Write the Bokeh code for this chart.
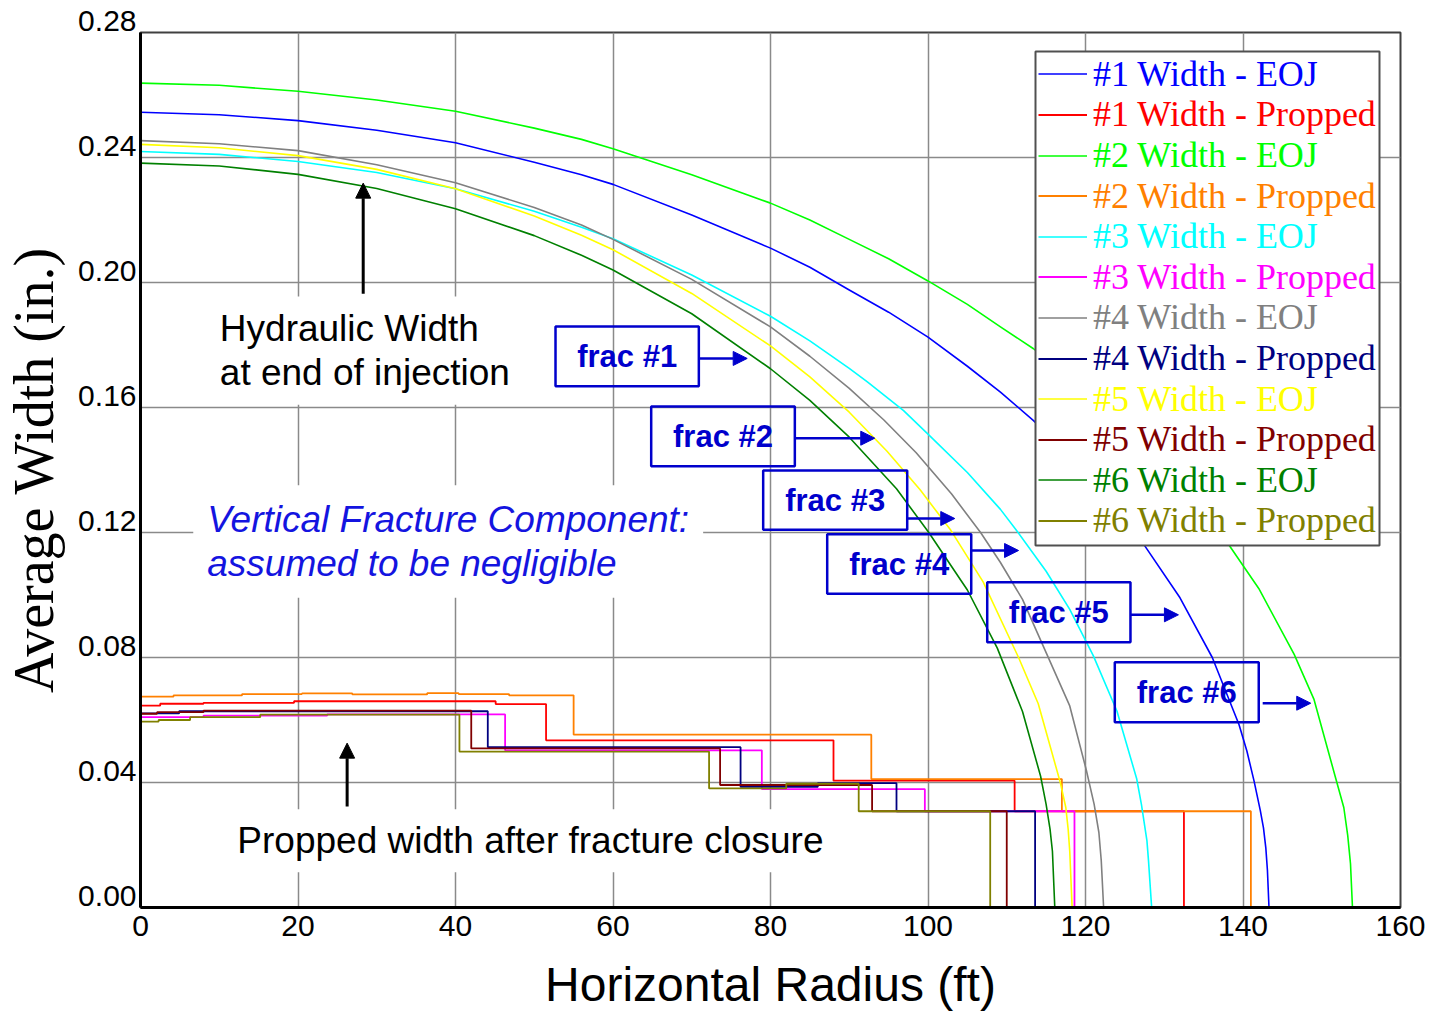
from bokeh.plotting import figure
from bokeh.models import (Range1d, FixedTicker, Label, Arrow, NormalHead,
                          BoxAnnotation, Legend, LegendItem)
from bokeh.embed import file_html
from bokeh.resources import INLINE

# ---------------- data ----------------
# End-of-injection (hydraulic) width curves: radius (ft) and width (in.)
r1_eoj = [0, 10, 20, 30, 40, 50, 56, 60, 70, 80, 85, 90, 95, 100, 105, 109.2, 113.4, 117, 120, 124, 127.4, 132, 136.1, 139.5, 140.5, 141.4, 142.2, 142.6, 142.9, 143.1, 143.3]
w1_eoj = [0.2545, 0.2537, 0.2518, 0.2487, 0.2447, 0.2385, 0.2345, 0.2314, 0.2216, 0.2110, 0.2049, 0.1976, 0.1905, 0.1825, 0.1732, 0.1649, 0.1558, 0.1469, 0.1390, 0.1276, 0.1162, 0.0991, 0.0800, 0.0585, 0.0500, 0.0405, 0.0310, 0.0255, 0.0190, 0.0120, 0.0]

r2_eoj = [0, 10, 20, 30, 40, 50, 56, 60, 70, 80, 85, 90, 95, 100, 105, 109.2, 113.4, 120, 125, 132, 138.0, 142, 146.5, 149, 151.7, 152.8, 153.3, 153.65, 153.9]
w2_eoj = [0.2638, 0.2631, 0.2612, 0.2584, 0.2548, 0.2494, 0.2458, 0.2428, 0.2345, 0.2254, 0.2200, 0.2138, 0.2076, 0.2005, 0.1930, 0.1858, 0.1788, 0.1654, 0.1541, 0.1359, 0.1168, 0.1021, 0.0810, 0.0667, 0.0420, 0.0320, 0.0230, 0.0140, 0.0]

r3_eoj = [0, 10, 20, 30, 40, 50, 56, 60, 70, 80, 85, 90, 92.3, 96.9, 100, 105, 109.2, 111.2, 115, 118, 121.0, 124, 126.5, 127.1, 127.8, 128.0, 128.4]
w3_eoj = [0.2419, 0.2410, 0.2387, 0.2352, 0.2300, 0.2228, 0.2177, 0.2140, 0.2024, 0.1892, 0.1813, 0.1725, 0.1682, 0.1590, 0.1515, 0.1392, 0.1274, 0.1208, 0.1076, 0.0954, 0.0805, 0.0628, 0.0412, 0.0330, 0.0214, 0.0150, 0.0]

r4_eoj = [0, 10, 20, 30, 40, 50, 56, 60, 70, 80, 85, 90, 94.4, 98.5, 103, 106.7, 109.2, 112, 115.1, 118, 120.1, 121.1, 121.7, 122.0, 122.3]
w4_eoj = [0.2454, 0.2444, 0.2422, 0.2377, 0.2319, 0.2240, 0.2184, 0.2138, 0.2010, 0.1858, 0.1764, 0.1661, 0.1560, 0.1455, 0.1323, 0.1199, 0.1104, 0.0986, 0.0810, 0.0645, 0.0440, 0.0330, 0.0240, 0.0150, 0.0]

r5_eoj = [0, 10, 20, 30, 40, 50, 56, 60, 70, 80, 85, 90, 94.8, 99, 102.9, 107, 111.5, 114, 116.8, 117.5, 117.8, 118.0, 118.3]
w5_eoj = [0.2442, 0.2431, 0.2406, 0.2362, 0.2300, 0.2213, 0.2151, 0.2105, 0.1965, 0.1797, 0.1698, 0.1585, 0.1460, 0.1337, 0.1207, 0.1042, 0.0800, 0.0652, 0.0400, 0.0320, 0.0250, 0.0180, 0.0]

r6_eoj = [0, 10, 20, 30, 40, 50, 56, 60, 70, 80, 85, 90, 96, 100.1, 105, 108.8, 112, 114.3, 115.0, 115.5, 115.8, 116.1]
w6_eoj = [0.2382, 0.2373, 0.2346, 0.2301, 0.2236, 0.2150, 0.2087, 0.2040, 0.1900, 0.1724, 0.1623, 0.1505, 0.1340, 0.1200, 0.1016, 0.0830, 0.0627, 0.0420, 0.0330, 0.0250, 0.0180, 0.0]

# Propped width after closure: step edges (ft) and step levels (in.)
p1_edges = [0, 2.5, 8.0, 19.5, 45.1, 51.5, 88.0, 111.0, 132.5]
p1_levels = [0.0646, 0.0652, 0.0655, 0.0660, 0.0651, 0.0535, 0.0406, 0.0308]

p2_edges = [0, 4.2, 12.9, 20.5, 26.9, 36.4, 40.4, 46.8, 55.0, 92.8, 117.0, 141.0]
p2_levels = [0.0675, 0.0679, 0.0683, 0.0685, 0.0682, 0.0686, 0.0683, 0.0679, 0.0553, 0.0411, 0.0308]

p3_edges = [0, 8.0, 23.7, 46.3, 78.9, 99.6, 118.6]
p3_levels = [0.0609, 0.0614, 0.0618, 0.0503, 0.0379, 0.0308]

p4_edges = [0, 4.9, 44.1, 76.2, 86.0, 96.0, 113.6]
p4_levels = [0.0621, 0.0628, 0.0513, 0.0386, 0.0398, 0.0308]

p5_edges = [0, 2.1, 8.0, 42.0, 73.6, 92.9, 110.0]
p5_levels = [0.0620, 0.0625, 0.0630, 0.0509, 0.0392, 0.0308]

p6_edges = [0, 2.3, 6.3, 15.2, 40.5, 72.2, 82.0, 91.2, 107.9]
p6_levels = [0.0595, 0.0600, 0.0609, 0.0617, 0.0499, 0.0381, 0.0396, 0.0308]

series_names = ["#1 Width - EOJ", "#1 Width - Propped", "#2 Width - EOJ", "#2 Width - Propped",
                "#3 Width - EOJ", "#3 Width - Propped", "#4 Width - EOJ", "#4 Width - Propped",
                "#5 Width - EOJ", "#5 Width - Propped", "#6 Width - EOJ", "#6 Width - Propped"]
series_colors = ["#0000FF", "#FF0000", "#00FF00", "#FF8000", "#00FFFF", "#FF00FF",
                 "#808080", "#000080", "#FFFF00", "#800000", "#008000", "#808000"]

x_ticks = [0, 20, 40, 60, 80, 100, 120, 140, 160]
x_tick_labels = ["0", "20", "40", "60", "80", "100", "120", "140", "160"]
y_ticks = [0.00, 0.04, 0.08, 0.12, 0.16, 0.20, 0.24, 0.28]
y_tick_labels = ["0.00", "0.04", "0.08", "0.12", "0.16", "0.20", "0.24", "0.28"]

frac_labels = ["frac #1", "frac #2", "frac #3", "frac #4", "frac #5", "frac #6"]

# ---------------- figure ----------------
p = figure(width=1435, height=1014, output_backend="svg", toolbar_location=None,
           x_range=Range1d(0, 160), y_range=Range1d(0, 0.28),
           min_border_left=140, min_border_right=35, min_border_top=32, min_border_bottom=107)
p.background_fill_color = "white"
p.border_fill_color = "white"
p.outline_line_color = "#404040"
p.outline_line_width = 2

# axes
p.xaxis.ticker = FixedTicker(ticks=x_ticks)
p.xaxis.major_label_overrides = {t: s for t, s in zip(x_ticks, x_tick_labels)}
p.yaxis.ticker = FixedTicker(ticks=y_ticks)
# trailing empty line lifts each y label just above its grid line, as in the reference
p.yaxis.major_label_overrides = {t: s + "\n" for t, s in zip(y_ticks, y_tick_labels)}
p.yaxis.major_label_text_line_height = 0.7
for ax in (p.xaxis, p.yaxis):
    ax.major_tick_line_color = None
    ax.minor_tick_line_color = None
    ax.major_tick_out = 0
    ax.major_tick_in = 0
    ax.axis_line_color = "black"
    ax.axis_line_width = 3
    ax.major_label_text_font = "Liberation Sans"
    ax.major_label_text_font_size = "30px"
    ax.major_label_text_color = "black"
    ax.axis_label_text_font_style = "normal"
    ax.axis_label_text_color = "black"
p.xaxis.major_label_standoff = 8
p.yaxis.major_label_standoff = 4
p.xaxis.axis_label = "Horizontal Radius (ft)"
p.xaxis.axis_label_text_font = "Liberation Sans"
p.xaxis.axis_label_text_font_size = "48px"
p.xaxis.axis_label_standoff = 19
p.yaxis.axis_label = "Average Width (in.)"
p.yaxis.axis_label_text_font = "Liberation Serif"
p.yaxis.axis_label_text_font_size = "56px"
p.yaxis.axis_label_standoff = 10

p.xgrid.ticker = FixedTicker(ticks=x_ticks)
p.ygrid.ticker = FixedTicker(ticks=y_ticks)
for g in (p.xgrid, p.ygrid):
    g.grid_line_color = "#8a8a8a"
    g.grid_line_width = 1.5

def steps(edges, levels):
    xs, ys = [], []
    for i, lv in enumerate(levels):
        xs += [edges[i], edges[i + 1]]
        ys += [lv, lv]
    xs.append(edges[-1])
    ys.append(0.0)
    return xs, ys

eoj = [(r1_eoj, w1_eoj), (r2_eoj, w2_eoj), (r3_eoj, w3_eoj),
       (r4_eoj, w4_eoj), (r5_eoj, w5_eoj), (r6_eoj, w6_eoj)]
prop = [(p1_edges, p1_levels), (p2_edges, p2_levels), (p3_edges, p3_levels),
        (p4_edges, p4_levels), (p5_edges, p5_levels), (p6_edges, p6_levels)]

renderers = []
for k in range(6):
    r_e = p.line(eoj[k][0], eoj[k][1], line_color=series_colors[2 * k], line_width=1.6,
                 line_join="round")
    renderers.append(r_e)
    xs, ys = steps(*prop[k])
    r_p = p.line(xs, ys, line_color=series_colors[2 * k + 1], line_width=1.8)
    renderers.append(r_p)

px_per_ft = 1260 / 160
px_per_in = 875 / 0.28

# text annotations with white background
p.add_layout(Label(x=8.55, y=0.1782, text="Hydraulic Width\nat end of injection",
                   text_align="left", text_baseline="middle", text_font="Liberation Sans",
                   text_font_size="37px", text_color="black", text_line_height=1.06,
                   background_fill_color="white", padding=12))
p.add_layout(Label(x=6.7, y=0.1171, text="Vertical Fracture Component:\nassumed to be negligible",
                   text_align="left", text_baseline="middle", text_font="Liberation Sans",
                   text_font_style="italic", text_font_size="37px", text_color="#1414E0",
                   text_line_height=1.06, background_fill_color="white", padding=14))
p.add_layout(Label(x=10.9, y=0.0214, text="Propped width after fracture closure",
                   text_align="left", text_baseline="middle", text_font="Liberation Sans",
                   text_font_size="37px", text_color="black",
                   background_fill_color="white", padding=11))

# black arrows
p.add_layout(Arrow(end=NormalHead(size=15, fill_color="black", line_color="black"),
                   x_start=28.28, y_start=0.1964, x_end=28.28, y_end=0.2318,
                   line_color="black", line_width=3))
p.add_layout(Arrow(end=NormalHead(size=15, fill_color="black", line_color="black"),
                   x_start=26.24, y_start=0.0323, x_end=26.24, y_end=0.0526,
                   line_color="black", line_width=3))

# frac boxes (left, right, bottom, top) and arrows (x_start, x_end, y)
frac_boxes = [(52.70, 70.90, 0.16682, 0.18592), (64.85, 83.09, 0.14122, 0.16032),
              (79.07, 97.36, 0.12086, 0.13984), (87.20, 105.49, 0.10038, 0.11946),
              (107.52, 125.71, 0.0849, 0.1041), (123.72, 142.0, 0.0593, 0.0785)]
frac_arrows = [(70.9, 77.04, 0.1757), (83.09, 93.24, 0.15018), (97.36, 103.4, 0.12448),
               (105.5, 111.5, 0.11424), (125.7, 131.8, 0.09366), (142.5, 148.6, 0.06538)]
blue = "#0000CC"
for (l, r, b, t), (xs_, xe_, ya), lab in zip(frac_boxes, frac_arrows, frac_labels):
    p.add_layout(BoxAnnotation(left=l, right=r, bottom=b, top=t, fill_alpha=0,
                               line_color=blue, line_width=2.5, line_alpha=1))
    p.add_layout(Label(x=(l + r) / 2, y=(b + t) / 2, text=lab, text_align="center",
                       text_baseline="middle", text_font="Liberation Sans",
                       text_font_style="bold", text_font_size="31px", text_color=blue))
    p.add_layout(Arrow(end=NormalHead(size=14, fill_color=blue, line_color=blue),
                       x_start=xs_, y_start=ya, x_end=xe_, y_end=ya,
                       line_color=blue, line_width=2.5))

# legend: white framed box, then one transparent single-entry legend per row (own text colour)
p.add_layout(BoxAnnotation(left=(1035 - 140) / px_per_ft, right=(1379 - 140) / px_per_ft,
                           top=(907 - 51) / px_per_in, bottom=(907 - 545) / px_per_in,
                           fill_color="white", fill_alpha=1, line_color="#505050",
                           line_width=2, line_alpha=1))
for i, (n, c, rr) in enumerate(zip(series_names, series_colors, renderers)):
    row_center = 74.3 + 40.6 * i
    leg = Legend(items=[LegendItem(label=n, renderers=[rr])],
                 location=(1038 - 140, 907 - (row_center + 20.5)),
                 padding=0, margin=0, spacing=0, label_height=41, glyph_height=41,
                 glyph_width=49, label_standoff=6, label_text_font="Liberation Serif",
                 label_text_font_size="36px", label_text_color=c,
                 border_line_alpha=0, background_fill_alpha=0)
    p.add_layout(leg)

open("out.html", "w").write(file_html(p, INLINE))
